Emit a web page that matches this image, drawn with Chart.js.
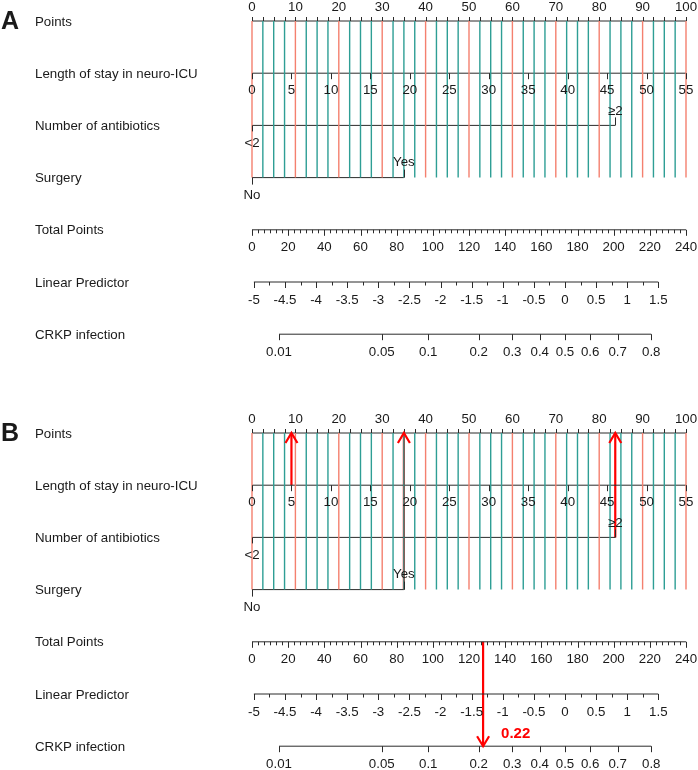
<!DOCTYPE html>
<html>
<head>
<meta charset="utf-8">
<script src="https://cdn.jsdelivr.net/npm/chart.js@4.4.0/dist/chart.umd.min.js"></script>
<style>
  body { margin: 0; background: #fff; }
  .panel { position: relative; width: 698px; }
  canvas { display: block; }
</style>
</head>
<body>
<div class="panel"><canvas id="panelA" width="698" height="412"></canvas></div>
<div class="panel"><canvas id="panelB" width="698" height="358"></canvas></div>
<script>
// 행 이름 (위에서 아래로)
const rowLabels = ["Points", "Length of stay in neuro-ICU", "Number of antibiotics", "Surgery",
                   "Total Points", "Linear Predictor", "CRKP infection"];

// 눈금 라벨
const pointsLabels = [0, 10, 20, 30, 40, 50, 60, 70, 80, 90, 100];
const losLabels = [0, 5, 10, 15, 20, 25, 30, 35, 40, 45, 50, 55];
const totalLabels = [0, 20, 40, 60, 80, 100, 120, 140, 160, 180, 200, 220, 240];
const lpLabels = [-5, -4.5, -4, -3.5, -3, -2.5, -2, -1.5, -1, -0.5, 0, 0.5, 1, 1.5];
const probLabels = [0.01, 0.05, 0.1, 0.2, 0.3, 0.4, 0.5, 0.6, 0.7, 0.8];

// 범주형 변수와 점수
const antibioticLevels = ["<2", "≥2"];
const antibioticPoints = [0, 83.7];
const surgeryLevels = ["No", "Yes"];
const surgeryPoints = [0, 35];

// 축 범위
const losMax = 55;          // 100점에 해당
const totalMax = 240;
const lpAtZero = -5.03;     // 총점 0 일 때 선형예측값
const lpAtMax = 1.945;      // 총점 240 일 때 선형예측값

// B 패널의 예시 환자
const exampleLos = 5;
const exampleAntibiotic = "≥2";
const exampleSurgery = "Yes";
const exampleProbLabel = "0.22";

// 변환 함수: 모두 Points(0-100) 단위로
const losToPts = v => v / losMax * 100;
const totToPts = t => t / totalMax * 100;
const lpToPts = l => totToPts((l - lpAtZero) / (lpAtMax - lpAtZero) * totalMax);
const probToPts = p => lpToPts(Math.log(p / (1 - p)));

const RED_GUIDE = "#F4806F";
const TEAL_GUIDE = "#2E9E95";
const AXIS = "#2b2b2b";
const ARROW = "#FF0000";
const FONT = '"Liberation Sans", Arial, sans-serif';

function segments(list) {
    // [[x1, y1, x2, y2], ...] -> 끊어진 선 데이터
    const out = [];
    list.forEach(s => {
        out.push({ x: s[0], y: s[1] }, { x: s[2], y: s[3] }, { x: s[2], y: null });
    });
    return out;
}

function buildDatasets(withArrows) {
    const red = [], teal = [];
    for (let p = 0; p <= 100; p += 2.5) {
        (p % 10 === 0 ? red : teal).push([p, 0, p, 3]);
    }
    const axes = [
        [0, 0, 100, 0],
        [losToPts(0), 1, losToPts(losMax), 1],
        [antibioticPoints[0], 2, antibioticPoints[1], 2],
        [surgeryPoints[0], 3, surgeryPoints[1], 3],
        [totToPts(0), 4, totToPts(totalMax), 4],
        [lpToPts(lpLabels[0]), 5, lpToPts(lpLabels[lpLabels.length - 1]), 5],
        [probToPts(probLabels[0]), 6, probToPts(probLabels[probLabels.length - 1]), 6]
    ];
    const common = { showLine: true, pointRadius: 0, clip: false, spanGaps: false, borderCapStyle: "butt" };
    const ds = [
        { ...common, data: segments(teal), borderColor: TEAL_GUIDE, borderWidth: 1.4 },
        { ...common, data: segments(red), borderColor: RED_GUIDE, borderWidth: 1.4 },
        { ...common, data: segments(axes), borderColor: AXIS, borderWidth: 1 }
    ];
    if (withArrows) {
        const a = antibioticPoints[antibioticLevels.indexOf(exampleAntibiotic)];
        const s = surgeryPoints[surgeryLevels.indexOf(exampleSurgery)];
        const l = losToPts(exampleLos);
        const total = totToPts(l + a + s);
        ds.push({ ...common, data: segments([[l, 1, l, 0], [a, 2, a, 0], [s, 3, s, 0], [total, 4, total, 6]]),
                  borderColor: ARROW, borderWidth: 2.2 });
    }
    return ds;
}

// 눈금, 라벨, 화살촉을 그리는 플러그인
const nomogramPlugin = {
    id: "nomogram",
    afterDatasetsDraw(chart, args, opts) {
        const ctx = chart.ctx;
        const X = v => chart.scales.x.getPixelForValue(v);
        const Y = i => chart.scales.y.getPixelForValue(i);
        ctx.save();
        ctx.strokeStyle = AXIS;
        ctx.fillStyle = "#1a1a1a";
        ctx.lineWidth = 1;
        ctx.textBaseline = "middle";

        const tick = (pts, row, len) => {
            const x = Math.round(X(pts)) + 0.5, y = Y(row);
            ctx.beginPath(); ctx.moveTo(x, y); ctx.lineTo(x, y + len); ctx.stroke();
        };
        const label = (text, pts, row, dy) => {
            ctx.textAlign = "center";
            ctx.fillText(text, X(pts), Y(row) + dy);
        };

        // 패널 문자
        ctx.font = "bold 25px " + FONT;
        ctx.textAlign = "left";
        ctx.fillText(opts.letter, 1, Y(0) + 1);

        // 행 이름
        ctx.font = "13.3px " + FONT;
        rowLabels.forEach((t, i) => { ctx.textAlign = "left"; ctx.fillText(t, 35, Y(i) + 1); });

        // Points
        for (let p = 0; p <= 100; p += 2.5) tick(p, 0, -4);
        pointsLabels.forEach(v => label(String(v), v, 0, -13.5));

        // Length of stay
        losLabels.forEach(v => { tick(losToPts(v), 1, 6); label(String(v), losToPts(v), 1, 17.5); });

        // Number of antibiotics
        tick(antibioticPoints[0], 2, 6);
        label(antibioticLevels[0], antibioticPoints[0], 2, 17.5);
        tick(antibioticPoints[1], 2, -8);
        label(antibioticLevels[1], antibioticPoints[1], 2, -14);

        // Surgery
        tick(surgeryPoints[0], 3, 7);
        label(surgeryLevels[0], surgeryPoints[0], 3, 17.5);
        tick(surgeryPoints[1], 3, -8);
        label(surgeryLevels[1], surgeryPoints[1], 3, -15);

        // Total Points
        for (let t = 0; t <= totalMax + 0.01; t += 20 / 6) {
            const major = Math.abs(t / 20 - Math.round(t / 20)) < 0.01;
            tick(totToPts(t), 4, major ? 6 : 3.5);
        }
        totalLabels.forEach(v => label(String(v), totToPts(v), 4, 18));

        // Linear Predictor
        for (let l = lpLabels[0]; l <= lpLabels[lpLabels.length - 1] + 0.01; l += 0.25) {
            const major = Math.abs(l * 2 - Math.round(l * 2)) < 0.01;
            tick(lpToPts(l), 5, major ? 6 : 3.5);
        }
        lpLabels.forEach(v => label(String(v), lpToPts(v), 5, 18));

        // CRKP infection
        probLabels.forEach(v => { tick(probToPts(v), 6, 6); label(String(v), probToPts(v), 6, 18); });

        // 화살촉
        if (opts.arrows) {
            const a = antibioticPoints[antibioticLevels.indexOf(exampleAntibiotic)];
            const s = surgeryPoints[surgeryLevels.indexOf(exampleSurgery)];
            const l = losToPts(exampleLos);
            const total = totToPts(l + a + s);
            ctx.strokeStyle = ARROW;
            ctx.lineWidth = 2.2;
            const head = (pts, row, dir) => {
                const x = X(pts), y = Y(row);
                ctx.beginPath();
                ctx.moveTo(x - 6, y + dir * 10); ctx.lineTo(x, y); ctx.lineTo(x + 6, y + dir * 10);
                ctx.stroke();
            };
            [l, a, s].forEach(p => head(p, 0, 1));
            head(total, 6, -1);
            ctx.fillStyle = ARROW;
            ctx.font = "bold 15px " + FONT;
            ctx.textAlign = "left";
            ctx.fillText(exampleProbLabel, X(total) + 18, Y(6) - 12);
        }
        ctx.restore();
    }
};

const ROW_GAP = 52.2;
const Y_MIN = -21 / ROW_GAP;

function drawPanel(id, letter, withArrows) {
    const canvas = document.getElementById(id);
    new Chart(canvas.getContext("2d"), {
        type: "scatter",
        data: { datasets: buildDatasets(withArrows) },
        options: {
            responsive: false,
            animation: false,
            events: [],
            layout: { padding: { left: 252, right: 12, top: 0, bottom: 0 } },
            scales: {
                x: { type: "linear", min: 0, max: 100, display: false },
                y: { type: "linear", min: Y_MIN, max: Y_MIN + canvas.height / ROW_GAP, reverse: true, display: false }
            },
            plugins: {
                legend: { display: false },
                tooltip: { enabled: false },
                nomogram: { letter: letter, arrows: withArrows }
            }
        },
        plugins: [nomogramPlugin]
    });
}

drawPanel("panelA", "A", false);
drawPanel("panelB", "B", true);
</script>
</body>
</html>
